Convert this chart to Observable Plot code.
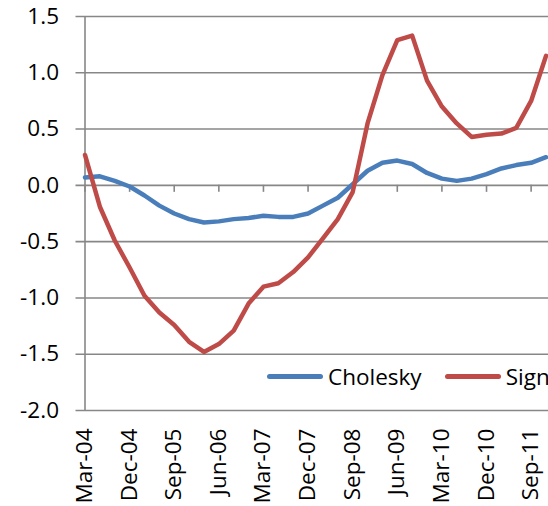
<!DOCTYPE html>
<html>
<head>
<meta charset="utf-8">
<script src="https://cdn.jsdelivr.net/npm/d3@7"></script>
<script src="https://cdn.jsdelivr.net/npm/@observablehq/plot@0.6"></script>
<style>
  html, body { margin: 0; padding: 0; background: #fff; overflow: hidden; }
  #wrap { position: relative; width: 548px; height: 506px; overflow: hidden; }
  #legend { position: absolute; left: 267px; top: 355px; white-space: nowrap;
            font-family: "Open Sans", sans-serif; font-size: 22.5px; color: #000; }
  #legend span.item { display: inline-flex; align-items: center; margin-right: 23px; }
  #legend span.sw { display: inline-block; width: 56px; height: 5px; border-radius: 3px; margin-right: 5px; }
</style>
</head>
<body>
<div id="wrap"></div>
<script>
const quarters = [
  "Mar-04","Jun-04","Sep-04","Dec-04","Mar-05","Jun-05","Sep-05","Dec-05",
  "Mar-06","Jun-06","Sep-06","Dec-06","Mar-07","Jun-07","Sep-07","Dec-07",
  "Mar-08","Jun-08","Sep-08","Dec-08","Mar-09","Jun-09","Sep-09","Dec-09",
  "Mar-10","Jun-10","Sep-10","Dec-10","Mar-11","Jun-11","Sep-11","Dec-11"
];
const cholesky = [
  0.07, 0.08, 0.04, -0.01, -0.09, -0.18, -0.25, -0.30,
  -0.33, -0.32, -0.30, -0.29, -0.27, -0.28, -0.28, -0.25,
  -0.18, -0.11, 0.01, 0.13, 0.20, 0.22, 0.19, 0.11,
  0.06, 0.04, 0.06, 0.10, 0.15, 0.18, 0.20, 0.25
];
const sign = [
  0.27, -0.19, -0.49, -0.73, -0.98, -1.13, -1.24, -1.39,
  -1.48, -1.41, -1.29, -1.05, -0.90, -0.87, -0.77, -0.64,
  -0.47, -0.30, -0.06, 0.55, 0.98, 1.29, 1.33, 0.93,
  0.70, 0.55, 0.43, 0.45, 0.46, 0.51, 0.75, 1.15
];
const seriesNames = ["Cholesky", "Sign restrictions"];
const seriesColors = ["#4A7EBB", "#BE4B48"];
const xTickLabels = ["Mar-04","Dec-04","Sep-05","Jun-06","Mar-07","Dec-07","Sep-08","Jun-09","Mar-10","Dec-10","Sep-11"];
const yTicks = [-2.0, -1.5, -1.0, -0.5, 0.0, 0.5, 1.0, 1.5];
const yTickLabels = ["-2.0", "-1.5", "-1.0", "-0.5", "0.0", "0.5", "1.0", "1.5"];

const rows = [];
quarters.forEach((q, i) => {
  rows.push({q, v: cholesky[i], s: seriesNames[0]});
});
quarters.forEach((q, i) => {
  rows.push({q, v: sign[i], s: seriesNames[1]});
});
const yTickRows = yTicks.map((v, i) => ({v, label: yTickLabels[i]}));

const grid = "#878787";
const chart = Plot.plot({
  width: 548,
  height: 506,
  marginLeft: 84.5,
  marginRight: 2.5,
  marginTop: 16,
  marginBottom: 96,
  style: { fontFamily: "Open Sans, sans-serif", fontSize: "22.5px", background: "#fff", color: "#000" },
  x: { type: "point", domain: quarters, padding: 0, round: false, axis: null },
  y: { domain: [-2, 1.5], axis: null },
  color: { domain: seriesNames, range: seriesColors },
  marks: [
    Plot.ruleY(yTicks, { y: d => d, stroke: grid, strokeWidth: 1.6, insetLeft: -9, insetRight: -3 }),
    Plot.ruleX([0], { x: () => quarters[0], stroke: grid, strokeWidth: 1.6 }),
    Plot.ruleX(xTickLabels, { x: d => d, y1: 0, y2: 0, insetBottom: -7, stroke: grid, strokeWidth: 1.6 }),
    Plot.text(yTickRows, { y: "v", text: "label", frameAnchor: "left", textAnchor: "end", dx: -26, fontSize: 22.5 }),
    Plot.text(xTickLabels, { x: d => d, text: d => d, frameAnchor: "bottom", rotate: -90, textAnchor: "end", dy: 18, dx: 7, fontSize: 22.5 }),
    Plot.line(rows, { x: "q", y: "v", z: "s", stroke: "s", strokeWidth: 4.5, strokeLinejoin: "round", strokeLinecap: "round" })
  ]
});

const wrap = document.getElementById("wrap");
wrap.appendChild(chart);
const legend = document.createElement("div");
legend.id = "legend";
seriesNames.forEach((n, i) => {
  const item = document.createElement("span");
  item.className = "item";
  const sw = document.createElement("span");
  sw.className = "sw";
  sw.style.background = seriesColors[i];
  item.appendChild(sw);
  item.appendChild(document.createTextNode(n));
  legend.appendChild(item);
});
wrap.appendChild(legend);
</script>
</body>
</html>
